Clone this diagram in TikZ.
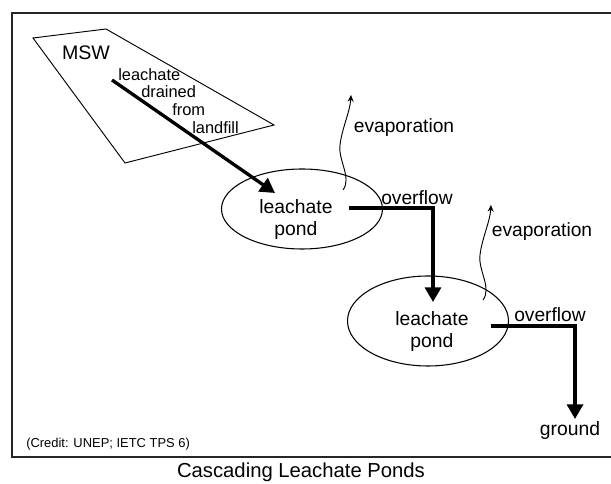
\documentclass[tikz,border=0pt]{standalone}
\usepackage{fontspec}
\setmainfont{Liberation Sans}
\usetikzlibrary{arrows.meta,shapes.geometric}

\begin{document}
\begin{tikzpicture}[x=0.75pt,y=-0.75pt,
        every node/.style={inner sep=0pt, font=\fontsize{14.4}{16}\selectfont},
        flow/.style={line width=2.5pt, -{Triangle[length=11pt,width=12pt]}},
        vapour/.style={line width=0.7pt, -{Stealth[length=5pt,width=4.5pt]}},
        pond/.style={draw, ellipse, line width=0.8pt, minimum width=120.75pt},
        stair/.style={anchor=base west, font=\fontsize{12.3}{14}\selectfont}
    ]
    \useasboundingbox (0,0) rectangle (611,484);

    % frame, right side runs off the page
    \draw[line width=1.9pt, draw=black!85] (12,13) rectangle (630,457);

    % landfill
    \coordinate (m1) at (33,38);
    \coordinate (m2) at (106,29);
    \coordinate (m3) at (274,125);
    \coordinate (m4) at (125,163);
    \draw[line width=0.7pt] (m1) -- (m2) -- (m3) -- (m4) -- cycle;

    \node[font=\fontsize{14.7}{16}\selectfont] (msw) at (86,53) {MSW};
    \node[stair] (st1) at (118,81) {leachate};
    \node[stair] (st2) at (141,98) {drained};
    \node[stair] (st3) at (172,116) {from};
    \node[stair] (st4) at (192,134) {landfill};

    % ponds
    \node[pond, minimum height=60pt] (pond1) at (302,209) {};
    \node[pond, minimum height=67.5pt] (pond2) at (428,321) {};
    \node[align=center, font=\fontsize{14.5}{16.5}\selectfont] (lbl1) at (296,220) {leachate\\pond};
    \node[align=center, font=\fontsize{14.5}{16.5}\selectfont] (lbl2) at (432,332) {leachate\\pond};

    \node (evap1) at (404,128) {evaporation};
    \node (evap2) at (542,232) {evaporation};
    \node (over1) at (417,198) {overflow};
    \node (over2) at (550,315) {overflow};
    \node[font=\fontsize{14.5}{16}\selectfont] (ground) at (570,431) {ground};

    \coordinate (drain) at (112,80);
    \coordinate (inlet1) at (275,193);
    \coordinate (out1) at (349,208);
    \coordinate (bend1) at (433,208);
    \coordinate (inlet2) at (433,302);
    \coordinate (out2) at (491,326);
    \coordinate (bend2) at (575,326);
    \coordinate (drop) at (575,419);

    \draw[flow] (drain) -- (inlet1);
    \draw[flow] (out1) -- (bend1) -- (inlet2);
    \draw[flow] (out2) -- (bend2) -- (drop);

    % evaporation
    \coordinate (vap1) at (343,190);
    \coordinate (top1) at (351,95);
    \coordinate (vap2) at (483,300);
    \coordinate (top2) at (491,205);
    \draw[vapour] (vap1) .. controls (352,178) and (338,160) .. (340,145)
        .. controls (342,128) and (350,112) .. (top1);
    \draw[vapour] (vap2) .. controls (492,288) and (478,270) .. (480,255)
        .. controls (482,238) and (490,222) .. (top2);

    \node[anchor=west, font=\fontsize{9.7}{11}\selectfont] (credit) at (26,444) {(Credit: UNEP; IETC TPS 6)};
    \node[anchor=base, font=\fontsize{15.2}{17}\selectfont] (title) at (301,478) {Cascading Leachate Ponds};
\end{tikzpicture}
\end{document}
